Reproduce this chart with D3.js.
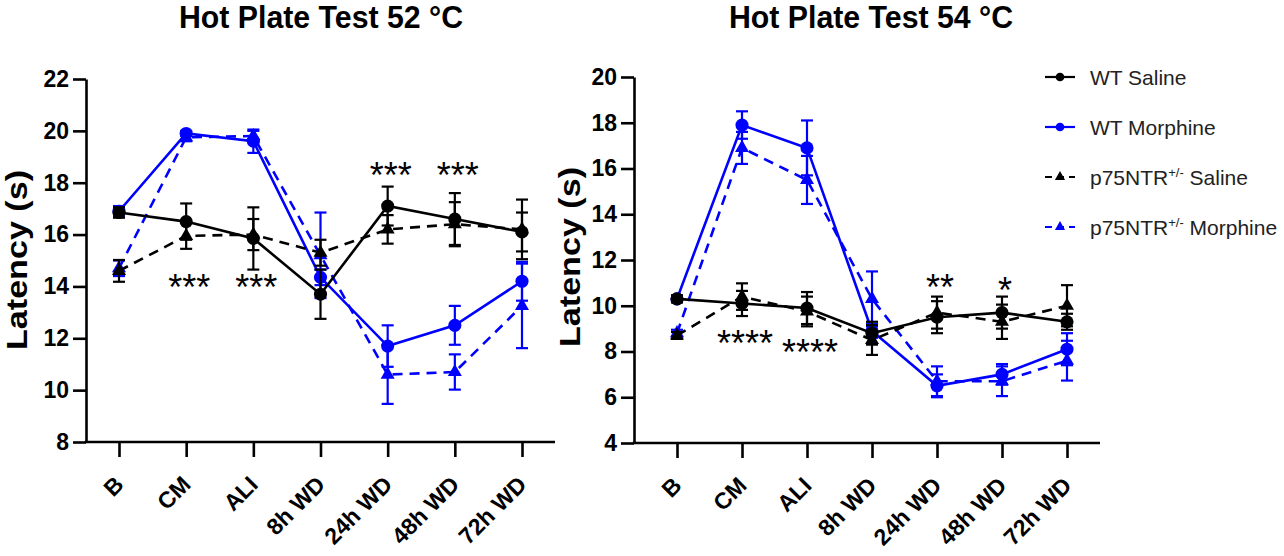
<!DOCTYPE html>
<html>
<head>
<meta charset="utf-8">
<script src="https://cdn.jsdelivr.net/npm/d3@7"></script>
<style>
  html, body { margin: 0; padding: 0; background: #fff; }
  svg { display: block; font-family: "Liberation Sans", Arial, sans-serif; }
</style>
</head>
<body>
<svg id="chart" width="1284" height="556"></svg>
<script>
// ---------- data ----------
const categories = ["B", "CM", "ALI", "8h WD", "24h WD", "48h WD", "72h WD"];

// Hot Plate 52 °C
const wtSaline52 = [16.85, 16.5, 15.85, 13.7, 17.1, 16.6, 16.1];
const wtSaline52Err = [0.2, 0.7, 1.2, 0.95, 0.75, 1.0, 0.75];
const wtMorphine52 = [16.9, 19.9, 19.6, 14.35, 11.7, 12.5, 14.2];
const wtMorphine52Err = [0.2, 0.1, 0.45, 0.3, 0.8, 0.75, 0.75];
const p75Saline52 = [14.6, 15.95, 16.0, 15.3, 16.2, 16.4, 16.2];
const p75Saline52Err = [0.42, 0.5, 0.6, 0.5, 0.55, 0.85, 1.15];
const p75Morphine52 = [14.7, 19.75, 19.8, 15.2, 10.6, 10.7, 13.25];
const p75Morphine52Err = [0.3, 0.15, 0.2, 1.65, 1.13, 0.68, 1.63];
const yTicks52 = [8, 10, 12, 14, 16, 18, 20, 22];
const stars52 = ["", "***", "***", "", "***", "***", ""];
const starLevel52 = [null, 14.25, 14.25, null, 18.57, 18.57, null];

// Hot Plate 54 °C
const wtSaline54 = [10.3, 10.1, 9.9, 8.8, 9.5, 9.7, 9.3];
const wtSaline54Err = [0.15, 0.55, 0.7, 0.5, 0.7, 0.7, 0.35];
const wtMorphine54 = [10.3, 17.9, 16.9, 8.9, 6.5, 7.0, 8.1];
const wtMorphine54Err = [0.15, 0.6, 1.2, 0.3, 0.5, 0.45, 0.7];
const p75Saline54 = [8.7, 10.4, 9.75, 8.5, 9.7, 9.3, 10.0];
const p75Saline54Err = [0.15, 0.58, 0.65, 0.65, 0.7, 0.75, 0.9];
const p75Morphine54 = [8.8, 16.9, 15.5, 10.3, 6.7, 6.7, 7.6];
const p75Morphine54Err = [0.15, 0.7, 1.05, 1.2, 0.65, 0.65, 0.87];
const yTicks54 = [4, 6, 8, 10, 12, 14, 16, 18, 20];
const stars54 = ["", "****", "****", "", "**", "*", ""];
const starLevel54 = [null, 8.68, 8.29, null, 11.13, 11.0, null];

const seriesNames = ["WT Saline", "WT Morphine", "p75NTR", "p75NTR"];

// ---------- drawing ----------
const svg = d3.select("#chart");
const BLUE = "#0000ff";

const styles = {
  wtSaline:    { color: "#000", dash: null,  shape: "circle" },
  wtMorphine:  { color: BLUE,   dash: null,  shape: "circle" },
  p75Saline:   { color: "#000", dash: "10,7", shape: "triangle" },
  p75Morphine: { color: BLUE,   dash: "10,7", shape: "triangle" }
};

function panel(cfg) {
  const g = svg.append("g");
  const x = d3.scalePoint().domain(categories).range([cfg.firstTick, cfg.lastTick]);
  const y = d3.scaleLinear().domain([cfg.yMin, cfg.yMax]).range([cfg.yBottom, cfg.yTop]);

  // title
  g.append("text")
    .attr("x", cfg.titleX).attr("y", 28)
    .attr("text-anchor", "middle")
    .attr("font-size", 31).attr("font-weight", "bold")
    .attr("textLength", 284).attr("lengthAdjust", "spacingAndGlyphs")
    .text(cfg.title);

  // y axis
  const ya = g.append("g")
    .attr("transform", `translate(${cfg.x0},0)`)
    .call(d3.axisLeft(y).tickValues(cfg.yTicks).tickSize(13).tickSizeOuter(0).tickPadding(4));
  ya.select(".domain").attr("stroke-width", 2.6).attr("stroke", "#000");
  ya.selectAll(".tick line").attr("stroke-width", 2.6).attr("stroke", "#000");
  ya.selectAll(".tick text").attr("font-size", 23).attr("font-weight", "bold")
    .attr("font-family", "'Liberation Sans', Arial, sans-serif").attr("fill", "#000");

  // y label
  g.append("text")
    .attr("transform", `translate(${cfg.yLabelX},${cfg.yLabelY}) rotate(-90)`)
    .attr("text-anchor", "middle")
    .attr("font-size", 30).attr("font-weight", "bold")
    .attr("textLength", 180).attr("lengthAdjust", "spacingAndGlyphs")
    .text("Latency (s)");

  // x axis
  const xa = g.append("g")
    .attr("transform", `translate(0,${cfg.yBottom})`)
    .call(d3.axisBottom(x).tickSize(15).tickSizeOuter(0));
  xa.select(".domain").remove();
  xa.selectAll(".tick line").attr("stroke-width", 2.6).attr("stroke", "#000");
  xa.selectAll(".tick text").remove();
  g.append("line")
    .attr("x1", cfg.x0 - 1.3).attr("x2", cfg.xEnd)
    .attr("y1", cfg.yBottom).attr("y2", cfg.yBottom)
    .attr("stroke", "#000").attr("stroke-width", 2.6);
  g.selectAll(".xlab").data(categories).enter().append("text")
    .attr("class", "xlab")
    .attr("transform", d => `translate(${x(d) + 6},${cfg.yBottom + 44}) rotate(-45)`)
    .attr("text-anchor", "end")
    .attr("font-size", 23).attr("font-weight", "bold")
    .text(d => d);

  // series
  const order = ["wtMorphine", "p75Morphine", "p75Saline", "wtSaline"];
  order.forEach(key => {
    const vals = cfg.data[key], errs = cfg.err[key], st = styles[key];
    const pts = categories.map((c, i) => ({ c, v: vals[i], e: errs[i] }));
    const sg = g.append("g");
    sg.append("path")
      .datum(pts)
      .attr("fill", "none").attr("stroke", st.color).attr("stroke-width", 2.6)
      .attr("stroke-dasharray", st.dash)
      .attr("d", d3.line().x(d => x(d.c)).y(d => y(d.v)));
    // error bars
    const eb = sg.selectAll(".eb").data(pts).enter().append("g");
    eb.append("line")
      .attr("x1", d => x(d.c)).attr("x2", d => x(d.c))
      .attr("y1", d => y(d.v - d.e)).attr("y2", d => y(d.v + d.e))
      .attr("stroke", st.color).attr("stroke-width", 2.2);
    eb.append("line")
      .attr("x1", d => x(d.c) - 6).attr("x2", d => x(d.c) + 6)
      .attr("y1", d => y(d.v + d.e)).attr("y2", d => y(d.v + d.e))
      .attr("stroke", st.color).attr("stroke-width", 2.2);
    eb.append("line")
      .attr("x1", d => x(d.c) - 6).attr("x2", d => x(d.c) + 6)
      .attr("y1", d => y(d.v - d.e)).attr("y2", d => y(d.v - d.e))
      .attr("stroke", st.color).attr("stroke-width", 2.2);
    // markers
    const sym = d3.symbol().type(st.shape === "circle" ? d3.symbolCircle : d3.symbolTriangle)
      .size(st.shape === "circle" ? 135 : 85);
    sg.selectAll(".mk").data(pts).enter().append("path")
      .attr("transform", d => `translate(${x(d.c)},${y(d.v)})`)
      .attr("d", sym).attr("fill", st.color);
  });

  // significance stars
  categories.forEach((c, i) => {
    if (!cfg.stars[i]) return;
    g.append("text")
      .attr("x", x(c) + 3).attr("y", y(cfg.starLevel[i]) + 20)
      .attr("text-anchor", "middle")
      .attr("font-size", 36)
      .text(cfg.stars[i]);
  });
}

panel({
  title: "Hot Plate Test 52 °C", titleX: 321,
  x0: 86, xEnd: 555, firstTick: 119, lastTick: 522,
  yMin: 8, yMax: 22, yTop: 79, yBottom: 442, yTicks: yTicks52,
  yLabelX: 27, yLabelY: 260,
  data: { wtSaline: wtSaline52, wtMorphine: wtMorphine52, p75Saline: p75Saline52, p75Morphine: p75Morphine52 },
  err: { wtSaline: wtSaline52Err, wtMorphine: wtMorphine52Err, p75Saline: p75Saline52Err, p75Morphine: p75Morphine52Err },
  stars: stars52, starLevel: starLevel52
});

panel({
  title: "Hot Plate Test 54 °C", titleX: 871,
  x0: 634, xEnd: 1100, firstTick: 677, lastTick: 1067,
  yMin: 4, yMax: 20, yTop: 77, yBottom: 443, yTicks: yTicks54,
  yLabelX: 580, yLabelY: 257,
  data: { wtSaline: wtSaline54, wtMorphine: wtMorphine54, p75Saline: p75Saline54, p75Morphine: p75Morphine54 },
  err: { wtSaline: wtSaline54Err, wtMorphine: wtMorphine54Err, p75Saline: p75Saline54Err, p75Morphine: p75Morphine54Err },
  stars: stars54, starLevel: starLevel54
});

// ---------- legend ----------
const legendKeys = ["wtSaline", "wtMorphine", "p75Saline", "p75Morphine"];
const legendSuffix = ["", "", " Saline", " Morphine"];
const lg = svg.append("g");
legendKeys.forEach((k, i) => {
  const st = styles[k];
  const cy = 77 + i * 50;
  const row = lg.append("g").attr("transform", `translate(0,${cy})`);
  row.append("line").attr("x1", 1045).attr("x2", 1075).attr("y1", 0).attr("y2", 0)
    .attr("stroke", st.color).attr("stroke-width", 2.2)
    .attr("stroke-dasharray", st.dash ? "7,5" : null);
  row.append("path")
    .attr("transform", "translate(1060,0)")
    .attr("d", d3.symbol().type(st.shape === "circle" ? d3.symbolCircle : d3.symbolTriangle)
      .size(st.shape === "circle" ? 60 : 45))
    .attr("fill", st.color);
  const t = row.append("text").attr("x", 1090).attr("y", 7.5)
    .attr("font-size", 21).attr("fill", "#222");
  if (i < 2) {
    t.text(seriesNames[i]);
  } else {
    t.append("tspan").text(seriesNames[i]);
    t.append("tspan").attr("font-size", 13).attr("dy", -8).text("+/-");
    t.append("tspan").attr("dy", 8).text(legendSuffix[i]);
  }
});
</script>
</body>
</html>
